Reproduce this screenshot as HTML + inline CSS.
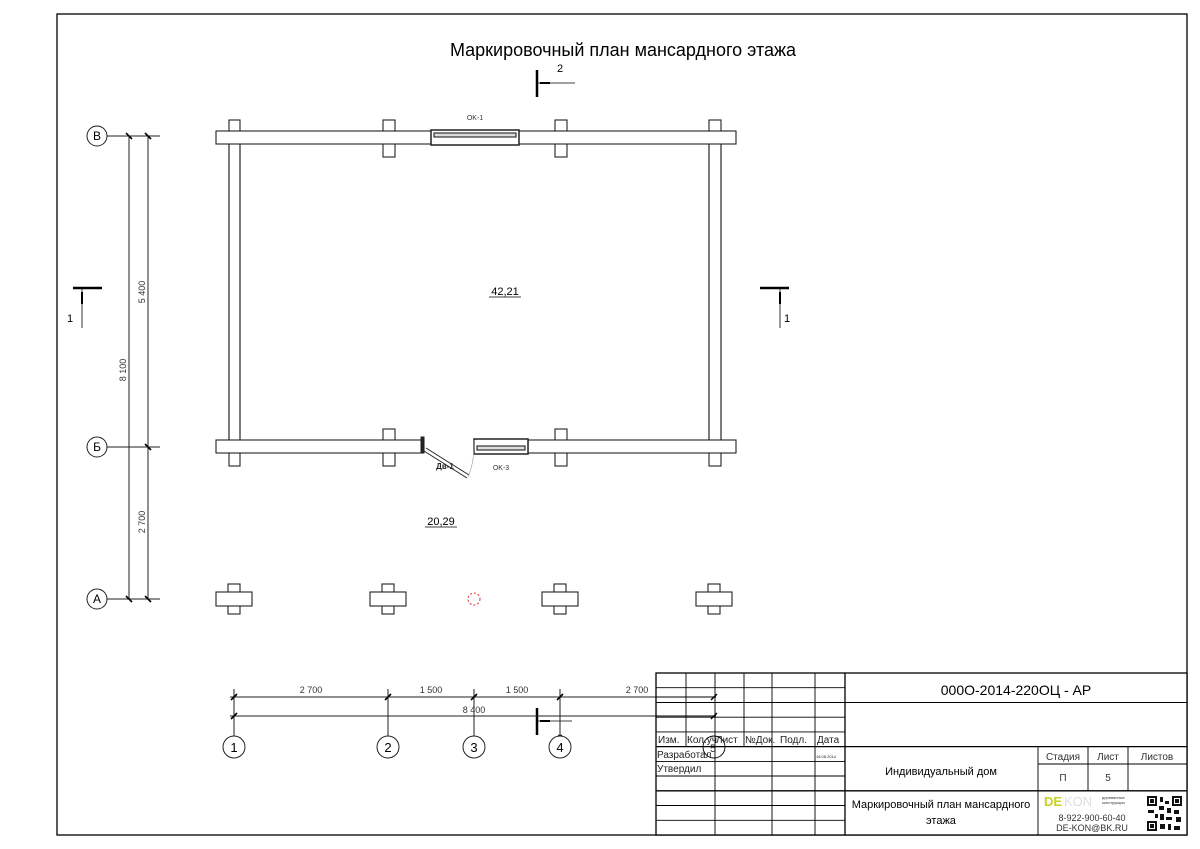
<!DOCTYPE html>
<html><head><meta charset="utf-8"><style>
html,body{margin:0;padding:0;background:#fff;}
svg{display:block;font-family:"Liberation Sans",Arial,sans-serif;}
</style></head><body>
<svg width="1200" height="849" viewBox="0 0 1200 849" xmlns="http://www.w3.org/2000/svg">
<rect x="57" y="14" width="1130" height="821" fill="none" stroke="#000" stroke-width="1.3"/>
<text x="623" y="56" font-size="18" text-anchor="middle">Маркировочный план мансардного этажа</text>

<g fill="#fff" stroke="#222" stroke-width="1.1">
<rect x="229" y="120" width="11" height="346"/>
<rect x="709" y="120" width="12" height="346"/>
<rect x="383" y="120" width="12" height="37"/>
<rect x="555" y="120" width="12" height="37"/>
<rect x="383" y="429" width="12" height="37"/>
<rect x="555" y="429" width="12" height="37"/>
<rect x="216" y="131" width="520" height="13"/>
<rect x="216" y="440" width="208" height="13"/>
<rect x="528" y="440" width="208" height="13"/>
<rect x="431" y="130" width="88" height="15" stroke="#222" stroke-width="1.5"/>
<rect x="434" y="133" width="82" height="4" fill="#ddd"/>
<rect x="474" y="439" width="54" height="15" stroke="#222" stroke-width="1.5"/>
<rect x="477" y="446" width="48" height="4" fill="#ddd"/>
<rect x="228" y="584" width="12" height="30"/><rect x="216" y="592" width="36" height="14"/>
<rect x="382" y="584" width="12" height="30"/><rect x="370" y="592" width="36" height="14"/>
<rect x="554" y="584" width="12" height="30"/><rect x="542" y="592" width="36" height="14"/>
<rect x="708" y="584" width="12" height="30"/><rect x="696" y="592" width="36" height="14"/>
</g>
<g stroke="#222" fill="none" stroke-width="1.1">
<line x1="240" y1="144" x2="240" y2="440"/><line x1="229" y1="144" x2="229" y2="440"/>
<line x1="709" y1="144" x2="709" y2="440"/><line x1="721" y1="144" x2="721" y2="440"/>
</g>
<g stroke="#222" fill="none">
<rect x="421" y="437" width="3" height="16" fill="#222"/>
<line x1="424" y1="451" x2="467" y2="478"/><line x1="426" y1="448" x2="469" y2="475"/>
<path d="M468 477 Q475 460 474 440" stroke="#999" stroke-width="0.6"/>
</g>
<text x="475" y="120" font-size="7" text-anchor="middle" fill="#333">OK-1</text>
<text x="445" y="469" font-size="8" text-anchor="middle" fill="#222" font-weight="bold">Дв-1</text>
<text x="501" y="470" font-size="7" text-anchor="middle" fill="#333">OK-3</text>
<text x="505" y="295" font-size="11" text-anchor="middle">42,21</text>
<line x1="489" y1="297" x2="521" y2="297" stroke="#000" stroke-width="0.8"/>
<text x="441" y="525" font-size="11" text-anchor="middle">20,29</text>
<line x1="425" y1="527" x2="457" y2="527" stroke="#000" stroke-width="0.8"/>
<circle cx="474" cy="599" r="6" fill="none" stroke="#d33" stroke-width="1" stroke-dasharray="2,2"/>

<g stroke="#222" fill="none" stroke-width="1">
<circle cx="97" cy="136" r="10"/><circle cx="97" cy="447" r="10"/><circle cx="97" cy="599" r="10"/>
<line x1="107" y1="136" x2="160" y2="136"/><line x1="107" y1="447" x2="160" y2="447"/><line x1="107" y1="599" x2="160" y2="599"/>
<line x1="129" y1="136" x2="129" y2="599"/><line x1="148" y1="136" x2="148" y2="599"/>
</g>
<g stroke="#000" stroke-width="1.6">
<line x1="126" y1="133" x2="132" y2="139"/><line x1="145" y1="133" x2="151" y2="139"/>
<line x1="145" y1="444" x2="151" y2="450"/>
<line x1="126" y1="596" x2="132" y2="602"/><line x1="145" y1="596" x2="151" y2="602"/>
</g>
<g font-size="12" text-anchor="middle">
<text x="97" y="140">В</text><text x="97" y="451">Б</text><text x="97" y="603">А</text>
</g>
<g font-size="9" fill="#333" text-anchor="middle">
<text transform="translate(126,370) rotate(-90)">8 100</text>
<text transform="translate(145,292) rotate(-90)">5 400</text>
<text transform="translate(145,522) rotate(-90)">2 700</text>
</g>

<g stroke="#000">
<line x1="73" y1="288" x2="102" y2="288" stroke-width="2.5"/>
<line x1="82" y1="288" x2="82" y2="328" stroke-width="0.8"/>
<line x1="82" y1="292" x2="82" y2="304" stroke-width="2"/>
<line x1="760" y1="288" x2="789" y2="288" stroke-width="2.5"/>
<line x1="780" y1="288" x2="780" y2="328" stroke-width="0.8"/>
<line x1="780" y1="292" x2="780" y2="304" stroke-width="2"/>
<line x1="537" y1="70" x2="537" y2="97" stroke-width="2.5"/>
<line x1="537" y1="83" x2="575" y2="83" stroke-width="0.8"/>
<line x1="540" y1="83" x2="550" y2="83" stroke-width="2"/>
<line x1="537" y1="708" x2="537" y2="735" stroke-width="2.5"/>
<line x1="537" y1="721" x2="572" y2="721" stroke-width="0.8"/>
<line x1="540" y1="721" x2="550" y2="721" stroke-width="2"/>
</g>
<g font-size="11">
<text x="67" y="322">1</text><text x="784" y="322">1</text>
<text x="557" y="72">2</text><text x="557" y="742">2</text>
</g>

<g stroke="#222" fill="none" stroke-width="1">
<line x1="230" y1="697" x2="716" y2="697"/>
<line x1="230" y1="716" x2="716" y2="716"/>
<line x1="234" y1="689" x2="234" y2="736"/>
<line x1="388" y1="689" x2="388" y2="736"/>
<line x1="474" y1="689" x2="474" y2="736"/>
<line x1="560" y1="689" x2="560" y2="736"/>
<circle cx="234" cy="747" r="11" fill="#fff"/><circle cx="388" cy="747" r="11" fill="#fff"/>
<circle cx="474" cy="747" r="11" fill="#fff"/><circle cx="560" cy="747" r="11" fill="#fff"/>
</g>
<g stroke="#000" stroke-width="1.6">
<line x1="231" y1="700" x2="237" y2="694"/><line x1="385" y1="700" x2="391" y2="694"/>
<line x1="471" y1="700" x2="477" y2="694"/><line x1="557" y1="700" x2="563" y2="694"/>
<line x1="711" y1="700" x2="717" y2="694"/>
<line x1="231" y1="719" x2="237" y2="713"/><line x1="711" y1="719" x2="717" y2="713"/>
</g>
<g font-size="9" fill="#333" text-anchor="middle">
<text x="311" y="693">2 700</text><text x="431" y="693">1 500</text>
<text x="517" y="693">1 500</text><text x="637" y="693">2 700</text>
<text x="474" y="713">8 400</text>
</g>
<g font-size="13" text-anchor="middle">
<text x="234" y="752">1</text><text x="388" y="752">2</text><text x="474" y="752">3</text><text x="560" y="752">4</text>
</g>

<g stroke="#000" fill="none" stroke-width="0.9">
<rect x="656" y="673" width="531" height="162" fill="#fff" stroke-width="1.3"/>
<line x1="656" y1="687.7" x2="845" y2="687.7"/>
<line x1="656" y1="702.5" x2="1187" y2="702.5"/>
<line x1="656" y1="717.2" x2="845" y2="717.2"/>
<line x1="656" y1="731.9" x2="845" y2="731.9"/>
<line x1="656" y1="746.6" x2="1187" y2="746.6" stroke-width="1.3"/>
<line x1="656" y1="761.4" x2="845" y2="761.4"/>
<line x1="1038" y1="764" x2="1187" y2="764"/>
<line x1="656" y1="776" x2="845" y2="776"/>
<line x1="656" y1="790.8" x2="1187" y2="790.8" stroke-width="1.3"/>
<line x1="656" y1="805.5" x2="845" y2="805.5"/>
<line x1="656" y1="820.3" x2="845" y2="820.3"/>
<line x1="686" y1="673" x2="686" y2="746.6"/>
<line x1="715" y1="673" x2="715" y2="835"/>
<line x1="744" y1="673" x2="744" y2="746.6"/>
<line x1="772" y1="673" x2="772" y2="835"/>
<line x1="815" y1="673" x2="815" y2="835"/>
<line x1="845" y1="673" x2="845" y2="835" stroke-width="1.3"/>
<line x1="1038" y1="746.6" x2="1038" y2="835"/>
<line x1="1088" y1="746.6" x2="1088" y2="790.8"/>
<line x1="1128" y1="746.6" x2="1128" y2="790.8"/>
<circle cx="714" cy="747" r="11"/>
<line x1="656" y1="697" x2="716" y2="697"/><line x1="656" y1="716" x2="716" y2="716"/>
</g>
<g stroke="#000" stroke-width="1.4">
<line x1="711" y1="700" x2="717" y2="694"/><line x1="711" y1="719" x2="717" y2="713"/>
</g>
<g font-size="10" fill="#222">
<text x="658" y="743">Изм.</text><text x="687" y="743">Кол.уч</text><text x="716" y="743">Лист</text>
<text x="745" y="743">№Док.</text><text x="780" y="743">Подл.</text><text x="817" y="743">Дата</text>
<text x="657" y="758">Разработал</text><text x="657" y="772">Утвердил</text>
<text x="816" y="758" font-size="4">18.08.2014</text>
<text x="710" y="752" font-size="11">5</text>
</g>
<text x="1016" y="695" font-size="14" text-anchor="middle">000О-2014-220ОЦ - АР</text>
<text x="941" y="775" font-size="11" text-anchor="middle">Индивидуальный дом</text>
<text x="941" y="808" font-size="11" text-anchor="middle">Маркировочный план мансардного</text>
<text x="941" y="824" font-size="11" text-anchor="middle">этажа</text>
<g font-size="10" fill="#333" text-anchor="middle">
<text x="1063" y="760">Стадия</text><text x="1108" y="760">Лист</text><text x="1157" y="760">Листов</text>
<text x="1063" y="781">П</text><text x="1108" y="781">5</text>
<text x="1092" y="821" font-size="9">8-922-900-60-40</text>
<text x="1092" y="831" font-size="9">DE-KON@BK.RU</text>
</g>
<text x="1044" y="806" font-size="13" fill="#c8d020" font-weight="bold">DE</text>
<text x="1064" y="806" font-size="13" fill="#ddd">KON</text>
<text x="1102" y="799" font-size="4" fill="#333">деревянные</text>
<text x="1102" y="804" font-size="4" fill="#333">конструкции</text>
<g fill="#111">
<rect x="1147" y="796" width="35" height="35" fill="#fff"/>
<rect x="1147" y="796" width="10" height="10"/><rect x="1172" y="796" width="10" height="10"/><rect x="1147" y="821" width="10" height="10"/>
<rect x="1149" y="798" width="6" height="6" fill="#fff"/><rect x="1174" y="798" width="6" height="6" fill="#fff"/><rect x="1149" y="823" width="6" height="6" fill="#fff"/>
<rect x="1150" y="799" width="4" height="4"/><rect x="1175" y="799" width="4" height="4"/><rect x="1150" y="824" width="4" height="4"/>
<rect x="1160" y="797" width="3" height="5"/><rect x="1165" y="801" width="4" height="3"/><rect x="1159" y="806" width="5" height="4"/>
<rect x="1167" y="808" width="4" height="5"/><rect x="1148" y="810" width="6" height="3"/><rect x="1174" y="810" width="5" height="4"/>
<rect x="1160" y="814" width="4" height="6"/><rect x="1166" y="817" width="6" height="3"/><rect x="1176" y="817" width="5" height="5"/>
<rect x="1160" y="824" width="5" height="5"/><rect x="1168" y="824" width="3" height="6"/><rect x="1174" y="826" width="6" height="4"/>
<rect x="1155" y="814" width="3" height="4"/>
</g>
</svg>
</body></html>
